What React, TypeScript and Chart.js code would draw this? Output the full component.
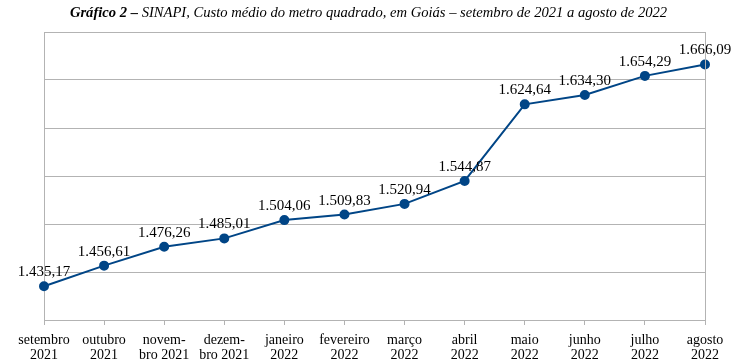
import React, { useEffect, useRef } from "react";
import { Chart, registerables } from "chart.js";

Chart.register(...registerables);

const categories: string[][] = [
  ["setembro", "2021"],
  ["outubro", "2021"],
  ["novem-", "bro 2021"],
  ["dezem-", "bro 2021"],
  ["janeiro", "2022"],
  ["fevereiro", "2022"],
  ["março", "2022"],
  ["abril", "2022"],
  ["maio", "2022"],
  ["junho", "2022"],
  ["julho", "2022"],
  ["agosto", "2022"],
];

const values: number[] = [
  1435.17, 1456.61, 1476.26, 1485.01, 1504.06, 1509.83, 1520.94, 1544.87,
  1624.64, 1634.3, 1654.29, 1666.09,
];

const titleBold = "Gráfico 2 –";
const titleRest = " SINAPI, Custo médio do metro quadrado, em Goiás – setembro de 2021 a agosto de 2022";

const SERIF = "'Liberation Serif', 'Times New Roman', serif";

const fmt = (v: number) => {
  const [i, d] = v.toFixed(2).split(".");
  return i.replace(/\B(?=(\d{3})+(?!\d))/g, ".") + "," + d;
};

const titlePlugin = {
  id: "mixedTitle",
  afterDraw(chart: any) {
    const ctx = chart.ctx;
    ctx.save();
    ctx.textBaseline = "middle";
    ctx.fillStyle = "#000";
    const fb = `italic bold 14.6px ${SERIF}`;
    const fi = `italic 14.6px ${SERIF}`;
    ctx.font = fb;
    const wb = ctx.measureText(titleBold).width;
    ctx.font = fi;
    const wi = ctx.measureText(titleRest).width;
    const x0 = chart.width / 2 - (wb + wi) / 2;
    ctx.font = fb;
    ctx.textAlign = "left";
    ctx.fillText(titleBold, x0, 13);
    ctx.font = fi;
    ctx.fillText(titleRest, x0 + wb, 13);
    ctx.restore();
  },
};

const labelPlugin = {
  id: "pointLabels",
  afterDatasetsDraw(chart: any) {
    const ctx = chart.ctx;
    const meta = chart.getDatasetMeta(0);
    ctx.save();
    ctx.font = `15px ${SERIF}`;
    ctx.fillStyle = "#000";
    ctx.textAlign = "center";
    ctx.textBaseline = "middle";
    meta.data.forEach((pt: any, i: number) => {
      ctx.fillText(fmt(values[i]), pt.x, pt.y - 14);
    });
    ctx.restore();
  },
};

const framePlugin = {
  id: "frame",
  afterDraw(chart: any) {
    const { ctx, chartArea } = chart;
    ctx.save();
    ctx.strokeStyle = "#b3b3b3";
    ctx.lineWidth = 1;
    ctx.beginPath();
    ctx.moveTo(Math.round(chartArea.right) + 0.5, chartArea.top);
    ctx.lineTo(Math.round(chartArea.right) + 0.5, chartArea.bottom);
    ctx.stroke();
    ctx.restore();
  },
};

export default function App() {
  const ref = useRef<HTMLCanvasElement>(null);
  useEffect(() => {
    if (!ref.current) return;
    const chart = new Chart(ref.current, {
      type: "line",
      data: {
        labels: categories,
        datasets: [
          {
            data: values,
            borderColor: "#004586",
            backgroundColor: "#004586",
            borderWidth: 2,
            pointRadius: 4,
            pointHoverRadius: 4,
            tension: 0,
          },
        ],
      },
      options: {
        animation: false,
        responsive: false,
        maintainAspectRatio: false,
        events: [],
        layout: { padding: { left: 44, right: 32, top: 32, bottom: 0 } },
        plugins: {
          legend: { display: false },
          tooltip: { enabled: false },
          title: { display: false },
        },
        scales: {
          x: {
            offset: false,
            afterFit: (scale: any) => {
              scale.height = 44;
            },
            grid: {
              display: true,
              drawOnChartArea: false,
              drawTicks: true,
              tickLength: 5,
              color: "#b3b3b3",
            },
            border: { display: true, color: "#b3b3b3" },
            ticks: {
              autoSkip: false,
              maxRotation: 0,
              minRotation: 0,
              padding: 8,
              color: "#000",
              font: { family: SERIF, size: 14, lineHeight: 1.05 },
            },
          },
          y: {
            min: 1400,
            max: 1700,
            grid: { display: true, drawTicks: false, color: "#b3b3b3" },
            border: { display: true, color: "#b3b3b3" },
            ticks: { display: false, stepSize: 50 },
          },
        },
      },
      plugins: [titlePlugin, labelPlugin, framePlugin],
    });
    return () => chart.destroy();
  }, []);
  return (
    <div style={{ position: "fixed", left: 0, top: 0, width: 737, height: 364, background: "#fff" }}>
      <canvas ref={ref} width={737} height={364} style={{ width: 737, height: 364, display: "block" }} />
    </div>
  );
}
